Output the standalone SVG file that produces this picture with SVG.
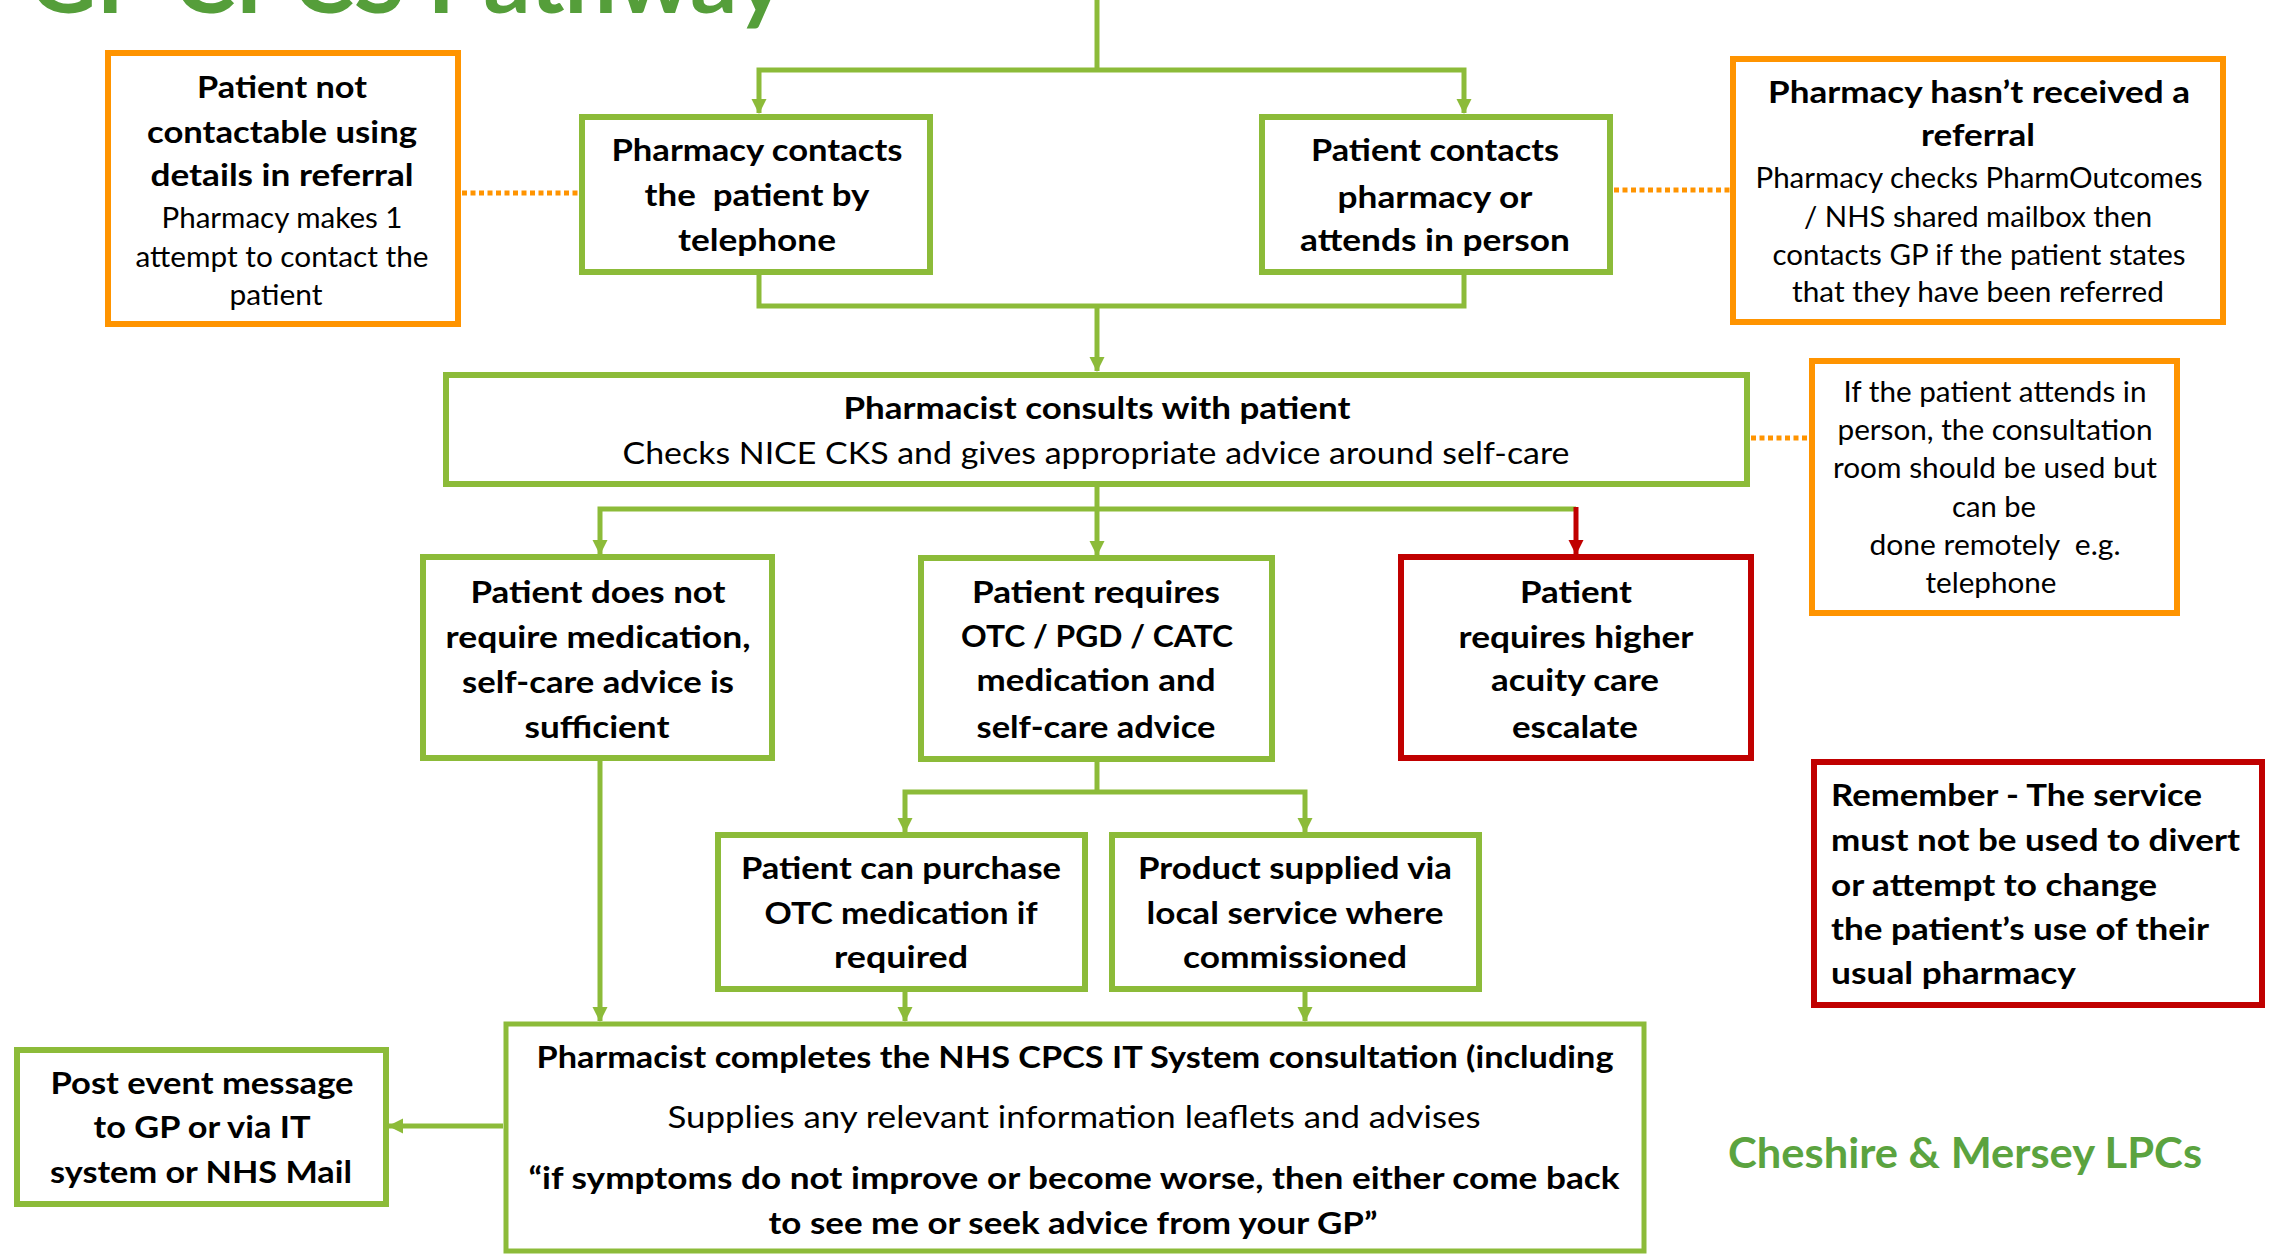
<svg xmlns="http://www.w3.org/2000/svg" width="2280" height="1254" viewBox="0 0 2280 1254">
<style>
.bg{fill:#fff}
.g{fill:#fff;stroke:#8CBB39;stroke-width:6}
.o{fill:#fff;stroke:#FF9400;stroke-width:6}
.rd{fill:#fff;stroke:#C00000;stroke-width:6}
.c{fill:none;stroke:#8CBB39;stroke-width:5}
.cr{fill:none;stroke:#C00000;stroke-width:5}
.d{fill:none;stroke:#FF9400;stroke-width:5;stroke-dasharray:5 3.5}
text{font-family:Lato,"Liberation Sans",sans-serif;fill:#000;text-anchor:middle}
.b{font-weight:700;font-size:31px}
.r{font-weight:400;font-size:28px}
.r2{font-weight:400;font-size:31px}
.l{text-anchor:start}
</style>
<defs>
<marker id="ag" markerUnits="userSpaceOnUse" markerWidth="16" markerHeight="16" viewBox="0 0 16 16" refX="14" refY="8" orient="auto"><path d="M0,0.5 L15,8 L0,15.5 Z" fill="#8CBB39"/></marker>
<marker id="ar" markerUnits="userSpaceOnUse" markerWidth="16" markerHeight="16" viewBox="0 0 16 16" refX="14" refY="8" orient="auto"><path d="M0,0.5 L15,8 L0,15.5 Z" fill="#C00000"/></marker>
</defs>
<rect class="bg" x="0" y="0" width="2280" height="1254"/>
<text x="29" y="13" style="font-weight:700;font-size:90px;fill:#559E3A;text-anchor:start" textLength="756" lengthAdjust="spacingAndGlyphs">GP CPCS Pathway</text>

<g id="connectors">
<path class="c" d="M1097,0 V70"/>
<path class="c" d="M1097,70 H759 V113" marker-end="url(#ag)"/>
<path class="c" d="M1097,70 H1464 V113" marker-end="url(#ag)"/>
<path class="c" d="M759,275 V306 H1464 V275"/>
<path class="c" d="M1097,306 V371" marker-end="url(#ag)"/>
<path class="c" d="M1097,487 V509"/>
<path class="c" d="M1097,509 H600 V554" marker-end="url(#ag)"/>
<path class="c" d="M1097,509 V555" marker-end="url(#ag)"/>
<path class="c" d="M1097,509 H1576"/>
<path class="cr" d="M1576,507 V554" marker-end="url(#ar)"/>
<path class="c" d="M600,761 V1021" marker-end="url(#ag)"/>
<path class="c" d="M1097,762 V792"/>
<path class="c" d="M1097,792 H905 V832" marker-end="url(#ag)"/>
<path class="c" d="M1097,792 H1305 V832" marker-end="url(#ag)"/>
<path class="c" d="M905,992 V1021" marker-end="url(#ag)"/>
<path class="c" d="M1305,992 V1021" marker-end="url(#ag)"/>
<path class="c" d="M503,1126 H389" marker-end="url(#ag)"/>
<path class="d" d="M462,193 H579"/>
<path class="d" d="M1614,190 H1730"/>
<path class="d" d="M1751,438 H1809"/>
</g>

<g id="nodeA">
<rect class="o" x="108" y="53" width="350" height="271"/>
<text class="b" x="282" y="98" textLength="170" lengthAdjust="spacingAndGlyphs">Patient not</text>
<text class="b" x="282" y="143" textLength="270" lengthAdjust="spacingAndGlyphs">contactable using</text>
<text class="b" x="282" y="186" textLength="263" lengthAdjust="spacingAndGlyphs">details in referral</text>
<text class="r" x="282" y="228" textLength="241" lengthAdjust="spacingAndGlyphs">Pharmacy makes 1</text>
<text class="r" x="282" y="267" textLength="293" lengthAdjust="spacingAndGlyphs">attempt to contact the</text>
<text class="r" x="276" y="305" textLength="93" lengthAdjust="spacingAndGlyphs">patient</text>
</g>

<g id="nodeB">
<rect class="g" x="582" y="117" width="348" height="155"/>
<text class="b" x="757" y="161" textLength="291" lengthAdjust="spacingAndGlyphs">Pharmacy contacts</text>
<text class="b" x="757" y="206" textLength="225" lengthAdjust="spacingAndGlyphs">the&#160; patient by</text>
<text class="b" x="757" y="251" textLength="158" lengthAdjust="spacingAndGlyphs">telephone</text>
</g>

<g id="nodeC">
<rect class="g" x="1262" y="117" width="348" height="155"/>
<text class="b" x="1435" y="161" textLength="248" lengthAdjust="spacingAndGlyphs">Patient contacts</text>
<text class="b" x="1435" y="208" textLength="195" lengthAdjust="spacingAndGlyphs">pharmacy or</text>
<text class="b" x="1435" y="251" textLength="270" lengthAdjust="spacingAndGlyphs">attends in person</text>
</g>

<g id="nodeD">
<rect class="o" x="1733" y="59" width="490" height="263"/>
<text class="b" x="1979" y="103" textLength="422" lengthAdjust="spacingAndGlyphs">Pharmacy hasn’t received a</text>
<text class="b" x="1978" y="146" textLength="114" lengthAdjust="spacingAndGlyphs">referral</text>
<text class="r" x="1979" y="188" textLength="447" lengthAdjust="spacingAndGlyphs">Pharmacy checks PharmOutcomes</text>
<text class="r" x="1978" y="227" textLength="348" lengthAdjust="spacingAndGlyphs">/ NHS shared mailbox then</text>
<text class="r" x="1979" y="265" textLength="413" lengthAdjust="spacingAndGlyphs">contacts GP if the patient states</text>
<text class="r" x="1978" y="302" textLength="372" lengthAdjust="spacingAndGlyphs">that they have been referred</text>
</g>

<g id="nodeE">
<rect class="g" x="446" y="375" width="1301" height="109"/>
<text class="b" x="1097" y="419" textLength="507" lengthAdjust="spacingAndGlyphs">Pharmacist consults with patient</text>
<text class="r2" x="1096" y="464" textLength="947" lengthAdjust="spacingAndGlyphs">Checks NICE CKS and gives appropriate advice around self-care</text>
</g>

<g id="nodeF">
<rect class="o" x="1812" y="361" width="365" height="252"/>
<text class="r" x="1995" y="402" textLength="303" lengthAdjust="spacingAndGlyphs">If the patient attends in</text>
<text class="r" x="1995" y="440" textLength="315" lengthAdjust="spacingAndGlyphs">person, the consultation</text>
<text class="r" x="1995" y="478" textLength="324" lengthAdjust="spacingAndGlyphs">room should be used but</text>
<text class="r" x="1994" y="517" textLength="84" lengthAdjust="spacingAndGlyphs">can be</text>
<text class="r" x="1995" y="555" textLength="251" lengthAdjust="spacingAndGlyphs">done remotely&#160; e.g.</text>
<text class="r" x="1991" y="593" textLength="131" lengthAdjust="spacingAndGlyphs">telephone</text>
</g>

<g id="nodeG">
<rect class="g" x="423" y="557" width="349" height="201"/>
<text class="b" x="598" y="603" textLength="255" lengthAdjust="spacingAndGlyphs">Patient does not</text>
<text class="b" x="598" y="648" textLength="305" lengthAdjust="spacingAndGlyphs">require medication,</text>
<text class="b" x="598" y="693" textLength="272" lengthAdjust="spacingAndGlyphs">self-care advice is</text>
<text class="b" x="597" y="738" textLength="145" lengthAdjust="spacingAndGlyphs">sufficient</text>
</g>

<g id="nodeH">
<rect class="g" x="921" y="558" width="351" height="201"/>
<text class="b" x="1096" y="603" textLength="248" lengthAdjust="spacingAndGlyphs">Patient requires</text>
<text class="b" x="1097" y="647" textLength="272" lengthAdjust="spacingAndGlyphs">OTC / PGD / CATC</text>
<text class="b" x="1096" y="691" textLength="239" lengthAdjust="spacingAndGlyphs">medication and</text>
<text class="b" x="1096" y="738" textLength="239" lengthAdjust="spacingAndGlyphs">self-care advice</text>
</g>

<g id="nodeI">
<rect class="rd" x="1401" y="557" width="350" height="201"/>
<text class="b" x="1576" y="603" textLength="112" lengthAdjust="spacingAndGlyphs">Patient</text>
<text class="b" x="1576" y="648" textLength="235" lengthAdjust="spacingAndGlyphs">requires higher</text>
<text class="b" x="1575" y="691" textLength="168" lengthAdjust="spacingAndGlyphs">acuity care</text>
<text class="b" x="1575" y="738" textLength="126" lengthAdjust="spacingAndGlyphs">escalate</text>
</g>

<g id="nodeJ">
<rect class="g" x="718" y="835" width="367" height="154"/>
<text class="b" x="901" y="879" textLength="320" lengthAdjust="spacingAndGlyphs">Patient can purchase</text>
<text class="b" x="901" y="924" textLength="273" lengthAdjust="spacingAndGlyphs">OTC medication if</text>
<text class="b" x="901" y="968" textLength="134" lengthAdjust="spacingAndGlyphs">required</text>
</g>

<g id="nodeK">
<rect class="g" x="1112" y="835" width="367" height="154"/>
<text class="b" x="1295" y="879" textLength="314" lengthAdjust="spacingAndGlyphs">Product supplied via</text>
<text class="b" x="1295" y="924" textLength="297" lengthAdjust="spacingAndGlyphs">local service where</text>
<text class="b" x="1295" y="968" textLength="224" lengthAdjust="spacingAndGlyphs">commissioned</text>
</g>

<g id="nodeL">
<rect class="g" x="506" y="1024" width="1138" height="227" style="stroke-width:5"/>
<text class="b" x="1075" y="1068" textLength="1077" lengthAdjust="spacingAndGlyphs">Pharmacist completes the NHS CPCS IT System consultation (including</text>
<text class="r2" x="1074" y="1128" textLength="813" lengthAdjust="spacingAndGlyphs">Supplies any relevant information leaflets and advises</text>
<text class="b" x="1074" y="1189" textLength="1091" lengthAdjust="spacingAndGlyphs">“if symptoms do not improve or become worse, then either come back</text>
<text class="b" x="1073" y="1234" textLength="609" lengthAdjust="spacingAndGlyphs">to see me or seek advice from your GP”</text>
</g>

<g id="nodeM">
<rect class="g" x="17" y="1050" width="369" height="154"/>
<text class="b" x="202" y="1094" textLength="303" lengthAdjust="spacingAndGlyphs">Post event message</text>
<text class="b" x="202" y="1138" textLength="217" lengthAdjust="spacingAndGlyphs">to GP or via IT</text>
<text class="b" x="201" y="1183" textLength="302" lengthAdjust="spacingAndGlyphs">system or NHS Mail</text>
</g>

<g id="nodeN">
<rect class="rd" x="1814" y="762" width="448" height="243"/>
<text class="b l" x="1831" y="806" textLength="371" lengthAdjust="spacingAndGlyphs">Remember - The service</text>
<text class="b l" x="1831" y="851" textLength="409" lengthAdjust="spacingAndGlyphs">must not be used to divert</text>
<text class="b l" x="1831" y="896" textLength="326" lengthAdjust="spacingAndGlyphs">or attempt to change</text>
<text class="b l" x="1831" y="940" textLength="378" lengthAdjust="spacingAndGlyphs">the patient’s use of their</text>
<text class="b l" x="1831" y="984" textLength="245" lengthAdjust="spacingAndGlyphs">usual pharmacy</text>
</g>

<text x="1728" y="1168" style="font-weight:700;font-size:42px;fill:#5BA33F;text-anchor:start" textLength="474" lengthAdjust="spacingAndGlyphs">Cheshire &amp; Mersey LPCs</text>
</svg>
